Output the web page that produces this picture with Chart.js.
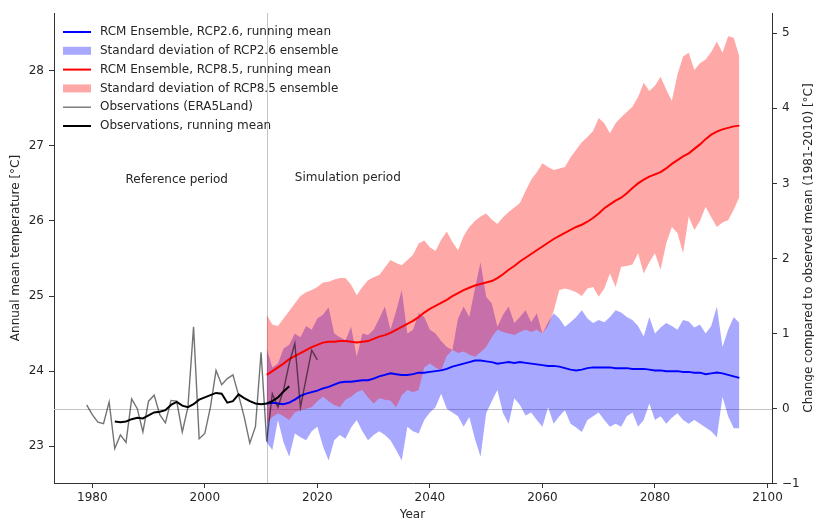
<!DOCTYPE html>
<html><head><meta charset="utf-8">
<script src="https://cdn.jsdelivr.net/npm/chart.js@4.4.0/dist/chart.umd.min.js"></script>
<style>html,body{margin:0;padding:0;background:#fff}#wrap{width:814px;height:519px;position:relative}</style>
</head><body><div id="wrap"><canvas id="c"></canvas></div>
<script>
// ---------- DATA ----------
const obsYears = [1979,1980,1981,1982,1983,1984,1985,1986,1987,1988,1989,1990,1991,1992,1993,1994,1995,1996,1997,1998,1999,2000,2001,2002,2003,2004,2005,2006,2007,2008,2009,2010,2011,2012,2013,2014,2015,2016,2017,2018,2019,2020];
const obsValues = [23.55,23.42,23.32,23.30,23.59,22.97,23.15,23.05,23.63,23.50,
                   23.19,23.60,23.68,23.42,23.31,23.61,23.60,23.19,23.52,24.59,
                   23.10,23.17,23.52,24.01,23.82,23.90,23.95,23.68,23.39,23.04,
                   23.26,24.25,23.06,23.70,23.52,23.75,24.10,24.37,23.52,23.90,
                   24.28,24.15];
const obsMeanYears = [1984,1985,1986,1987,1988,1989,1990,1991,1992,1993,1994,1995,1996,1997,1998,1999,2000,2001,2002,2003,2004,2005,2006,2007,2008,2009,2010,2011,2012,2013,2014,2015];
const obsMeanValues = [23.33,23.32,23.33,23.36,23.38,23.37,23.41,23.45,23.46,23.48,
                       23.55,23.59,23.54,23.52,23.56,23.62,23.65,23.68,23.71,23.70,
                       23.58,23.60,23.69,23.64,23.60,23.57,23.56,23.57,23.60,23.65,
                       23.73,23.80];
const simYears = [2011,2012,2013,2014,2015,2016,2017,2018,2019,2020,
                  2021,2022,2023,2024,2025,2026,2027,2028,2029,2030,
                  2031,2032,2033,2034,2035,2036,2037,2038,2039,2040,
                  2041,2042,2043,2044,2045,2046,2047,2048,2049,2050,
                  2051,2052,2053,2054,2055,2056,2057,2058,2059,2060,
                  2061,2062,2063,2064,2065,2066,2067,2068,2069,2070,
                  2071,2072,2073,2074,2075,2076,2077,2078,2079,2080,
                  2081,2082,2083,2084,2085,2086,2087,2088,2089,2090,
                  2091,2092,2093,2094,2095];
const rcp26Mean = [23.57,23.58,23.57,23.56,23.58,23.62,23.67,23.70,23.72,23.74,
                   23.77,23.79,23.82,23.85,23.86,23.86,23.87,23.88,23.88,23.90,
                   23.93,23.95,23.97,23.96,23.95,23.95,23.96,23.98,23.98,23.99,
                   24.00,24.01,24.03,24.06,24.08,24.10,24.12,24.14,24.14,24.13,
                   24.12,24.10,24.11,24.12,24.11,24.12,24.11,24.10,24.09,24.08,
                   24.07,24.07,24.06,24.04,24.02,24.01,24.02,24.04,24.05,24.05,
                   24.05,24.05,24.04,24.04,24.04,24.03,24.03,24.03,24.02,24.01,
                   24.01,24.00,24.00,24.00,23.99,23.99,23.98,23.98,23.96,23.97,
                   23.98,23.97,23.95,23.93,23.91];
const rcp26Upper = [24.30,24.05,24.10,24.30,24.35,24.50,24.45,24.60,24.55,24.70,
                    24.75,24.85,24.50,24.45,24.41,24.59,24.19,24.50,24.48,24.55,
                    24.70,24.86,24.55,24.80,25.08,24.50,24.55,24.77,24.72,24.55,
                    24.50,24.40,24.32,24.28,24.70,24.86,24.72,25.10,25.45,24.99,
                    24.90,24.59,24.75,24.86,24.64,24.72,24.81,24.65,24.77,24.50,
                    24.65,24.77,24.70,24.59,24.65,24.72,24.81,24.70,24.64,24.68,
                    24.65,24.72,24.81,24.78,24.72,24.68,24.60,24.46,24.72,24.50,
                    24.58,24.64,24.60,24.55,24.68,24.66,24.58,24.62,24.50,24.60,
                    24.86,24.32,24.55,24.72,24.64];
const rcp26Lower = [23.05,22.95,23.35,23.05,22.86,23.17,23.12,23.08,23.20,23.26,
                    23.00,22.81,23.08,23.15,23.10,23.25,23.35,23.20,23.08,23.15,
                    23.20,23.15,23.08,22.95,22.81,23.26,23.20,23.17,23.35,23.45,
                    23.52,23.70,23.50,23.45,23.40,23.26,23.39,23.10,22.86,23.44,
                    23.60,23.75,23.44,23.30,23.64,23.55,23.41,23.45,23.35,23.26,
                    23.52,23.30,23.40,23.48,23.30,23.25,23.19,23.35,23.40,23.45,
                    23.35,23.26,23.30,23.26,23.40,23.45,23.26,23.35,23.57,23.35,
                    23.40,23.30,23.38,23.44,23.35,23.30,23.35,23.30,23.25,23.20,
                    23.12,23.66,23.40,23.24,23.24];
const rcp85Mean = [23.95,24.00,24.05,24.10,24.16,24.20,24.24,24.28,24.32,24.35,
                   24.38,24.39,24.39,24.40,24.40,24.39,24.38,24.39,24.40,24.43,
                   24.46,24.48,24.51,24.55,24.59,24.63,24.67,24.72,24.78,24.83,
                   24.87,24.91,24.95,25.00,25.04,25.08,25.11,25.14,25.16,25.18,
                   25.20,25.24,25.29,25.35,25.40,25.46,25.51,25.56,25.61,25.66,
                   25.71,25.76,25.80,25.84,25.88,25.92,25.95,25.99,26.04,26.10,
                   26.17,26.22,26.27,26.31,26.37,26.44,26.50,26.55,26.59,26.62,
                   26.65,26.70,26.76,26.81,26.86,26.90,26.96,27.02,27.09,27.15,
                   27.19,27.22,27.24,27.26,27.27];
const rcp85Upper = [24.75,24.62,24.60,24.70,24.80,24.90,25.00,25.05,25.08,25.12,
                    25.18,25.19,25.22,25.24,25.24,25.15,25.01,25.12,25.21,25.25,
                    25.28,25.38,25.48,25.44,25.41,25.48,25.55,25.70,25.74,25.65,
                    25.60,25.75,25.86,25.72,25.61,25.80,25.92,26.00,26.06,26.10,
                    26.02,25.96,26.05,26.12,26.18,26.24,26.40,26.55,26.65,26.77,
                    26.72,26.68,26.70,26.72,26.85,26.95,27.05,27.12,27.20,27.37,
                    27.30,27.17,27.30,27.38,27.45,27.52,27.65,27.84,27.73,27.80,
                    27.92,27.75,27.60,27.95,28.19,28.24,28.01,28.10,28.15,28.25,
                    28.39,28.24,28.46,28.44,28.19];
const rcp85Lower = [23.30,23.39,23.44,23.40,23.35,23.45,23.48,23.50,23.52,23.60,
                    23.66,23.60,23.55,23.52,23.62,23.66,23.72,23.75,23.65,23.57,
                    23.64,23.62,23.61,23.52,23.68,23.75,23.72,23.75,24.05,24.10,
                    24.05,24.01,24.20,24.28,24.24,24.26,24.22,24.19,24.25,24.32,
                    24.45,24.55,24.52,24.50,24.48,24.52,24.55,24.52,24.55,24.50,
                    24.60,24.80,25.08,25.10,25.08,25.05,25.00,25.10,25.12,24.99,
                    25.10,25.30,25.12,25.39,25.40,25.42,25.57,25.30,25.45,25.57,
                    25.35,25.70,25.92,25.84,25.57,26.06,25.88,26.00,26.19,26.05,
                    25.92,25.98,26.01,26.15,26.32];
const observedMean = 23.5;      // 1981-2010 observed mean (right axis zero)
const splitYear = 2011;         // reference / simulation boundary
const xTicks = [1980,2000,2020,2040,2060,2080,2100];
const yTicks = [23,24,25,26,27,28];
const y2Ticks = [-1,0,1,2,3,4,5];
const legendLabels = ['RCM Ensemble, RCP2.6, running mean','Standard deviation of RCP2.6 ensemble',
  'RCM Ensemble, RCP8.5, running mean','Standard deviation of RCP8.5 ensemble',
  'Observations (ERA5Land)','Observations, running mean'];

// ---------- STYLE ----------
const X_MIN = 1973.2, X_MAX = 2100.8, Y_MIN = 22.51, Y_MAX = 28.77;
const FONT = 'DejaVu Sans';
const TXT = '#262626';
const BLUE = '#0000ff', RED = '#ff0000';
const BLUE_FILL = 'rgba(0,0,255,0.34)', RED_FILL = 'rgba(255,0,0,0.34)';
const OBS_THIN = 'rgba(0,0,0,0.55)', OBS_MEAN = '#000000';

const pts = (xs, ys) => xs.map((v, i) => ({x: v, y: ys[i]}));
const base = {pointRadius: 0, pointHoverRadius: 0, tension: 0, fill: false};

const datasets = [
  {...base, label: legendLabels[0], data: pts(simYears, rcp26Mean), borderColor: BLUE, borderWidth: 2, order: 1},
  {...base, label: legendLabels[2], data: pts(simYears, rcp85Mean), borderColor: RED, borderWidth: 2, order: 1},
  {...base, label: legendLabels[4], data: pts(obsYears, obsValues), borderColor: OBS_THIN, borderWidth: 1.4, order: 0},
  {...base, label: legendLabels[5], data: pts(obsMeanYears, obsMeanValues), borderColor: OBS_MEAN, borderWidth: 2, order: 0},
  {...base, label: 'rcp26 lower', data: pts(simYears, rcp26Lower), borderColor: 'rgba(0,0,0,0)', borderWidth: 0, order: 6},
  {...base, label: legendLabels[1], data: pts(simYears, rcp26Upper), borderColor: 'rgba(0,0,0,0)', borderWidth: 0, backgroundColor: BLUE_FILL, fill: {target: 4}, order: 5},
  {...base, label: 'rcp85 lower', data: pts(simYears, rcp85Lower), borderColor: 'rgba(0,0,0,0)', borderWidth: 0, order: 4},
  {...base, label: legendLabels[3], data: pts(simYears, rcp85Upper), borderColor: 'rgba(0,0,0,0)', borderWidth: 0, backgroundColor: RED_FILL, fill: {target: 6}, order: 3}
];

const legendStyle = [
  {type: 'line', color: BLUE, w: 2},
  {type: 'patch', color: BLUE_FILL},
  {type: 'line', color: RED, w: 2},
  {type: 'patch', color: RED_FILL},
  {type: 'line', color: OBS_THIN, w: 1.4},
  {type: 'line', color: OBS_MEAN, w: 2}
];

const overlay = {
  id: 'overlay',
  beforeDatasetsDraw(chart) {
    const {ctx, chartArea: a, scales: {x, y}} = chart;
    ctx.save();
    ctx.strokeStyle = '#c4c4c4'; ctx.lineWidth = 1;
    const px = Math.round(x.getPixelForValue(splitYear)) + 0.5;
    ctx.beginPath(); ctx.moveTo(px, a.top); ctx.lineTo(px, a.bottom); ctx.stroke();
    const py = Math.round(y.getPixelForValue(observedMean)) + 0.5;
    ctx.beginPath(); ctx.moveTo(a.left, py); ctx.lineTo(a.right, py); ctx.stroke();
    ctx.restore();
  },
  afterDraw(chart) {
    const {ctx, chartArea: a, scales: {x, y}} = chart;
    ctx.save();
    ctx.fillStyle = TXT;
    ctx.font = '12px "' + FONT + '"';
    ctx.textBaseline = 'middle';
    ctx.textAlign = 'left';
    // period labels
    ctx.fillText('Reference period', x.getPixelForValue(1985.9), y.getPixelForValue(26.55));
    ctx.fillText('Simulation period', x.getPixelForValue(2016.0), y.getPixelForValue(26.57));
    // legend
    const lx0 = 63, lx1 = 91, tx = 100, ly0 = 32, dy = 18.8;
    legendLabels.forEach((lab, i) => {
      const yy = ly0 + i * dy, s = legendStyle[i];
      if (s.type === 'line') {
        ctx.strokeStyle = s.color; ctx.lineWidth = s.w;
        ctx.beginPath(); ctx.moveTo(lx0, yy); ctx.lineTo(lx1, yy); ctx.stroke();
      } else {
        ctx.fillStyle = s.color; ctx.fillRect(lx0, yy - 4, lx1 - lx0, 8);
      }
      ctx.fillStyle = TXT;
      ctx.fillText(lab, tx, yy);
    });
    // axis titles
    const cy = (a.top + a.bottom) / 2;
    ctx.textAlign = 'center';
    ctx.save(); ctx.translate(16, cy); ctx.rotate(-Math.PI / 2);
    ctx.fillText('Annual mean temperature [°C]', 0, 0); ctx.restore();
    ctx.save(); ctx.translate(809, cy); ctx.rotate(-Math.PI / 2);
    ctx.fillText('Change compared to observed mean (1981-2010) [°C]', 0, 0); ctx.restore();
    ctx.fillText('Year', x.getPixelForValue(2036.9), 515);
    ctx.restore();
  }
};

const axisCommon = {
  grid: {drawOnChartArea: false, drawTicks: true, tickLength: 5, color: '#333', lineWidth: 1},
  border: {display: true, color: '#333', width: 1},
  ticks: {color: TXT, font: {family: FONT, size: 12}, autoSkip: false, maxRotation: 0}
};

new Chart(document.getElementById('c'), {
  type: 'line',
  data: {datasets},
  options: {
    responsive: true, maintainAspectRatio: false, animation: false,
    layout: {padding: {top: 13, left: 0, right: 0, bottom: 0}},
    plugins: {legend: {display: false}, tooltip: {enabled: false}},
    events: [],
    scales: {
      x: {...axisCommon, type: 'linear', position: 'bottom', min: X_MIN, max: X_MAX,
        ticks: {...axisCommon.ticks, padding: 3, callback: v => String(v)},
        afterBuildTicks: s => { s.ticks = xTicks.map(v => ({value: v})); },
        afterFit: s => { s.height = 36; }},
      y: {...axisCommon, type: 'linear', position: 'left', min: Y_MIN, max: Y_MAX,
        ticks: {...axisCommon.ticks, padding: 5, callback: v => String(v)},
        afterBuildTicks: s => { s.ticks = yTicks.map(v => ({value: v})); },
        afterFit: s => { s.width = 54; }},
      y2: {...axisCommon, type: 'linear', position: 'right', min: Y_MIN - observedMean, max: Y_MAX - observedMean,
        ticks: {...axisCommon.ticks, padding: 5, callback: v => (v < 0 ? '\u2212' + Math.abs(v) : String(v))},
        afterBuildTicks: s => { s.ticks = y2Ticks.map(v => ({value: v})); },
        afterFit: s => { s.width = 42; }}
    }
  },
  plugins: [overlay]
});
</script>
</body></html>
